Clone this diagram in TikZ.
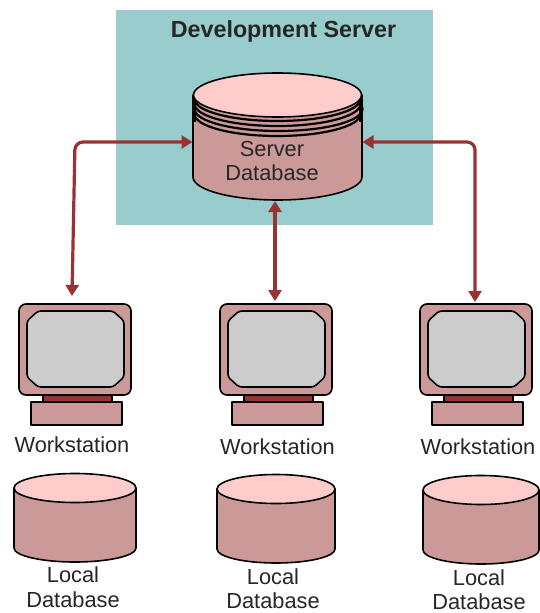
\documentclass[tikz,border=0pt]{standalone}
\usepackage{fontspec}
\setmainfont{Liberation Sans}
\usetikzlibrary{arrows.meta}
\definecolor{teal}{HTML}{99CCCC}
\definecolor{rose}{HTML}{CC9999}
\definecolor{pinktop}{HTML}{FFCCCC}
\definecolor{wire}{HTML}{993333}
\definecolor{screen}{HTML}{CCCCCC}
\tikzset{
  shapeline/.style={draw=black,line width=1.6pt,line join=round},
  disc/.style={draw=black,line width=2.2pt,fill=rose},
  label/.style={font=\fontsize{21.8}{24.5}\selectfont,text=black!85,inner sep=0pt,align=center},
  title/.style={font=\fontsize{23.3}{27}\selectfont\bfseries,text=black!85,inner sep=0pt},
  wirelink/.style={draw=wire,line width=3.2pt,rounded corners=8pt,{Triangle[length=11pt,width=13pt]}-{Triangle[length=11pt,width=13pt]}},
  anchorbox/.style={inner sep=0pt,outer sep=0pt}
}
% #1 name, #2 x offset, #3 text-centre x, #4 text y
\newcommand{\workstation}[4]{
  \begin{scope}[shift={(#2,0)}]
    \filldraw[shapeline,fill=wire] (43,395) rectangle (112,403);
    \filldraw[shapeline,fill=rose] (31,402) rectangle (122,425);
    \filldraw[shapeline,fill=rose,rounded corners=7pt] (19,304) rectangle (131,395);
    \filldraw[shapeline,fill=screen,rounded corners=3pt] (38,311) -- (113,311) -- (124,321) -- (124,377) -- (113,387) -- (38,387) -- (27,377) -- (27,321) -- cycle;
    \node[anchorbox,minimum width=113pt,minimum height=4pt] (#1) at (75,302) {};
  \end{scope}
  \node[label] (#1text) at (#3,#4) {Workstation};
}
% #1 name, #2 cx, #3 cy of top ellipse, #4 half width, #5 text cx, #6 text cy
\newcommand{\localdb}[6]{
  \filldraw[shapeline,fill=rose] (#2-#4,#3) -- (#2-#4,#3+60) arc[start angle=180,end angle=0,x radius=#4,y radius=14] -- (#2+#4,#3) -- cycle;
  \filldraw[shapeline,fill=pinktop] (#2,#3) ellipse[x radius=#4,y radius=14.5];
  \node[label] (#1) at (#5,#6) {Local\\Database};
}
\begin{document}
\begin{tikzpicture}[x=1pt,y=-1pt]
\useasboundingbox (0,0) rectangle (539,613);
\fill[white] (0,0) rectangle (539,613);
\fill[teal] (116,10) rectangle (433,225);
\node[title] (ttl) at (283.5,31) {Development Server};
% server database
\filldraw[shapeline,fill=rose] (193,95) -- (193,177) arc[start angle=180,end angle=0,x radius=84.5,y radius=23] -- (362,95) -- cycle;
\filldraw[disc] (277.5,114) ellipse[x radius=83,y radius=22];
\filldraw[disc] (278.5,109) ellipse[x radius=84,y radius=22];
\filldraw[disc] (277.5,104) ellipse[x radius=83,y radius=22];
\filldraw[disc] (277.5,99) ellipse[x radius=83,y radius=22];
\fill[black] (192.5,95) rectangle (196,122);
\fill[black] (359,95) rectangle (362.5,122);
\filldraw[shapeline,fill=pinktop] (277.5,95) ellipse[x radius=84,y radius=22];
\node[anchorbox,minimum width=170pt,minimum height=128pt] (srv) at (277.5,137) {};
\node[label] (srvtext) at (272,161) {Server\\Database};
% workstations
\workstation{wsa}{0}{72}{445}
\workstation{wsb}{201}{277.5}{447}
\workstation{wsc}{401}{478}{447}
% local databases
\localdb{dba}{75}{488}{61}{73}{587}
\localdb{dbb}{276}{489}{59}{273}{588.5}
\localdb{dbc}{481}{490}{58}{479}{589.5}
% connectors
\coordinate (sl) at (srv.west|-0,142);
\coordinate (sr) at (srv.east|-0,142);
\draw[wirelink] (sl) -- (75,142) -- (72,296);
\draw[wirelink] (sr) -- (475,142) -- (475,302);
\draw[wirelink] (srv.south-|275,0) -- (275,301);
\end{tikzpicture}
\end{document}
